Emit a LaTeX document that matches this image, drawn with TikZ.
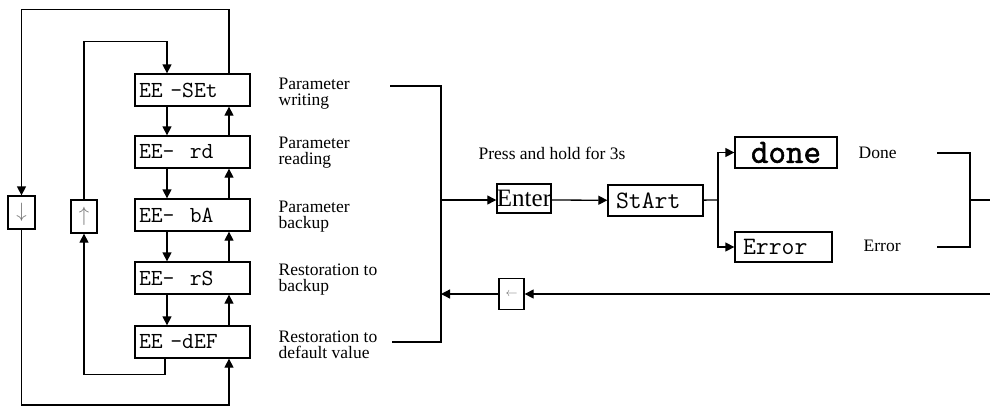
\documentclass[tikz,border=0pt]{standalone}
\usepackage{fontspec}
\usepackage{tikz}
\usetikzlibrary{positioning,calc,arrows.meta}
\setmainfont{Liberation Serif}
\newfontfamily\lcdfont{Latin Modern Mono}
\newfontfamily\lcdbold[FakeBold=1.6]{Latin Modern Mono}
\newcommand\notefont{\fontsize{17.5}{16}\selectfont\lineskiplimit=-20pt\relax}

\tikzset{
  lcd/.style={draw, minimum height=32pt, inner xsep=4pt, text width=#1, align=left,
    font=\lcdfont\fontsize{23}{23}\selectfont},
  note/.style={anchor=west, inner sep=0pt, align=left, font=\notefont},
  keybox/.style={draw, inner sep=0pt, minimum width=26pt, minimum height=33pt,
    text=black!55, font=\fontsize{20}{20}\selectfont},
}

\begin{document}
\begin{tikzpicture}[x=1pt, y=-1pt, >={Triangle[length=9pt,width=9pt]}, line width=1.3pt]
  \useasboundingbox (0,0) rectangle (990,408);
  % menu items
  \node[lcd=107pt] (set) at (192.5,90) {EE -SEt};
  \node[lcd=107pt] (rd) at (192.5,152) {EE-~~rd};
  \node[lcd=107pt] (ba) at (192.5,215) {EE-~~bA};
  \node[lcd=107pt] (rs) at (192.5,278) {EE-~~rS};
  \node[lcd=107pt] (def) at (192.5,342) {EE -dEF};
  \node[keybox, minimum width=27pt] (dn) at (21.5,212.5) {$\downarrow$};
  \node[keybox] (up) at (84,216.5) {$\uparrow$};
  \node[note] (lset) at (278,94) {Parameter\\writing};
  \node[note] (lrd) at (278,153) {Parameter\\reading};
  \node[note] (lba) at (278,216.5) {Parameter\\backup};
  \node[note] (lrs) at (278,280) {Restoration to\\backup};
  \node[note] (ldef) at (278,345) {Restoration to\\default value};
  \foreach \a/\b in {set/rd, rd/ba, ba/rs, rs/def} {
    \draw[->] ([xshift=-25.5pt]\a.south) -- ([xshift=-25.5pt]\b.north);
    \draw[->] ([xshift=36.5pt]\b.north) -- ([xshift=36.5pt]\a.south);
  }
  \coordinate (bot) at (0,405);
  \draw[->] ([xshift=36.5pt]set.north) -- ++(0,-64) -| (dn.north);
  \draw[->] (dn.south) -- (dn.south |- bot) -| ([xshift=36.5pt]def.south);
  \draw[->] ([xshift=-27.5pt]def.south) -- ++(0,16) -| (up.south);
  \draw[->] (up.north) -- ++(0,-158) -| ([xshift=-25.5pt]set.north);

  % execution
  \coordinate (jw) at (390,86);
  \coordinate (jd) at (392,342);
  \coordinate (jm) at (441,200);
  \coordinate (jr) at (441,294);
  \draw (jw) -| (jm) |- (jd);
  \node[note] (hold) at (478,153) {Press and hold for 3s};
  \node[draw, inner sep=0pt, minimum width=54pt, minimum height=29pt,
    font=\fontsize{25}{25}\selectfont] (enter) at (524,198.5) {Enter};
  \node[lcd=79pt, inner xsep=8pt, minimum height=31pt,
    font=\lcdfont\fontsize{25}{25}\selectfont] (start) at (655.5,200.5) {StArt};
  \node[lcd=94pt, align=center, minimum height=31pt,
    font=\lcdbold\fontsize{34}{34}\selectfont] (done) at (786,152.5) {done};
  \node[lcd=81pt, inner xsep=8pt, minimum height=30pt,
    font=\lcdfont\fontsize{25}{25}\selectfont] (error) at (783.5,247) {Error};
  \node[note] (ldone) at (858,153) {Done};
  \node[note] (lerr) at (863,246) {Error};
  \coordinate (fork) at (718,200);
  \draw[->] (jm) -- (jm -| enter.west);
  \draw[->] (enter.east |- jm) -- (start);
  \draw (start) -- (fork);
  \draw[->] (fork) |- (done);
  \draw[->] (fork) |- (error);

  % result and return
  \coordinate (kd) at (937,153);
  \coordinate (ke) at (937,247);
  \coordinate (ko) at (970,200);
  \coordinate (kout) at (990,200);
  \coordinate (rin) at (990,294);
  \draw (kd) -| (ko) |- (ke);
  \draw (ko) -- (kout);
  \node[keybox, minimum width=25pt, minimum height=31pt,
    font=\fontsize{12}{12}\selectfont] (back) at (511.5,294) {$\leftarrow$};
  \draw[->] (rin) -- (back);
  \draw[->] (back) -- (jr);
\end{tikzpicture}
\end{document}
